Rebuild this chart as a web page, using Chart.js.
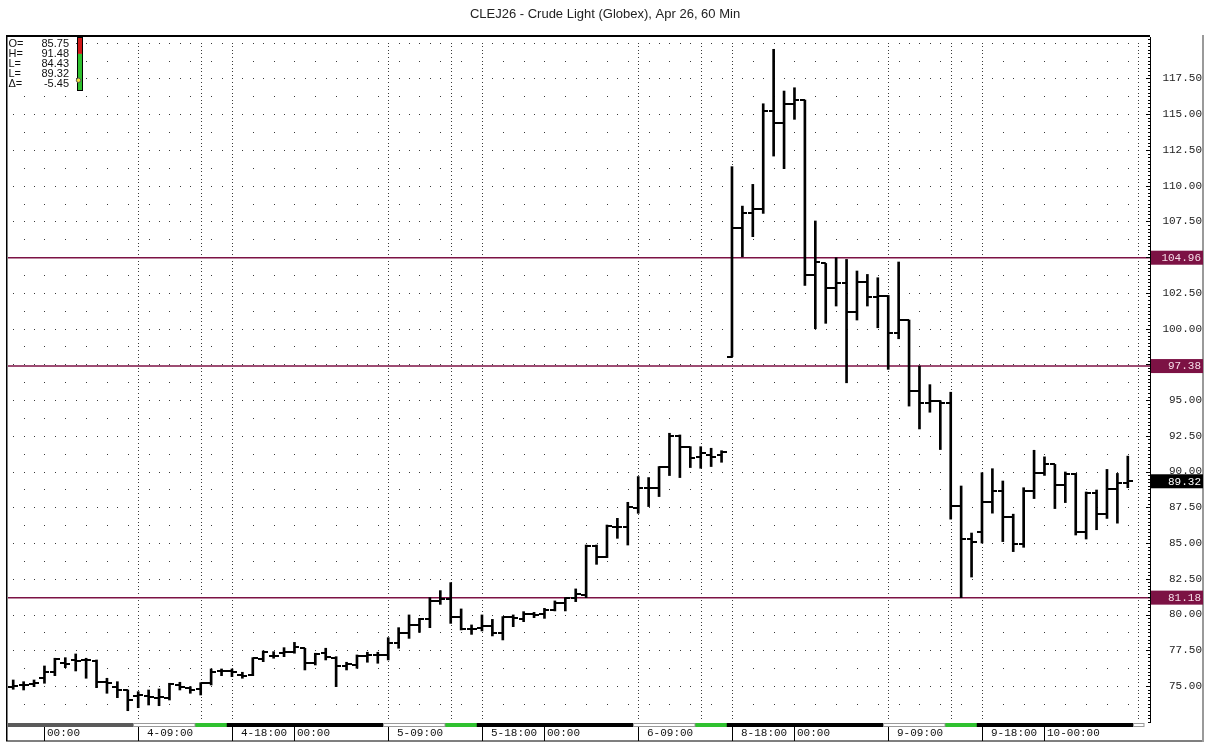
<!DOCTYPE html>
<html>
<head>
<meta charset="utf-8">
<title>CLEJ26 - Crude Light (Globex), Apr 26, 60 Min</title>
<script src="https://cdn.jsdelivr.net/npm/chart.js"></script>
<style>
  html, body { margin: 0; padding: 0; background: #fff; }
  #wrap { width: 1212px; height: 748px; }
</style>
</head>
<body>
<div id="wrap"><canvas id="myChart"></canvas></div>
<script>
// 60 min bars, oldest first (bar index 0 = 3-21:00)
const opens = [
  74.95, 75.05, 75.15, 75.55, 75.96, 76.59, 76.82, 76.82, 76.77, 75.30,
  74.95, 74.72, 74.32, 74.32, 74.14, 74.14, 75.07, 74.84, 74.79, 75.19,
  76.05, 76.05, 75.77, 75.77, 76.89, 77.12, 77.29, 77.40, 77.64, 76.59,
  77.29, 76.98, 76.42, 76.47, 77.12, 77.17, 77.17, 77.99, 78.68, 79.27,
  79.69, 80.95, 81.09, 79.83, 78.99, 79.08, 79.17, 78.68, 79.80, 79.69,
  80.01, 80.01, 80.32, 80.78, 81.13, 81.37, 84.82, 84.05, 86.15, 86.15,
  87.43, 88.83, 88.88, 90.35, 92.51, 91.74, 91.04, 91.16, 91.16, 98.03,
  107.01, 108.11, 108.34, 115.22, 114.40, 115.73, 115.99, 103.75, 104.56, 102.86,
  103.16, 101.16, 103.26, 102.23, 102.28, 99.67, 100.60, 95.63, 94.82, 94.92,
  94.80, 87.60, 85.28, 85.79, 87.88, 88.64, 86.79, 84.94, 88.64, 89.87,
  90.50, 89.04, 89.80, 85.79, 88.53, 87.02, 88.81, 89.18
];
const highs = [
  75.42, 75.30, 75.42, 76.40, 76.94, 76.98, 77.24, 76.94, 76.82, 75.54,
  75.30, 74.72, 74.60, 74.72, 74.79, 75.19, 75.26, 74.95, 75.23, 76.19,
  76.19, 76.19, 75.96, 76.98, 77.45, 77.40, 77.68, 78.05, 77.64, 77.29,
  77.64, 77.05, 76.66, 77.17, 77.36, 77.36, 78.38, 79.08, 79.97, 79.73,
  81.18, 81.67, 82.23, 80.39, 79.27, 79.97, 79.66, 79.85, 79.97, 80.20,
  80.15, 80.43, 80.95, 81.18, 81.79, 84.86, 84.86, 86.26, 86.73, 87.85,
  89.65, 89.58, 90.35, 92.68, 92.56, 91.74, 91.74, 91.63, 91.46, 111.33,
  108.57, 110.09, 115.73, 119.54, 116.62, 116.85, 115.99, 107.53, 104.56, 104.96,
  104.84, 104.03, 103.79, 103.56, 102.32, 104.66, 100.60, 97.38, 96.08, 94.95,
  95.55, 88.99, 85.70, 89.92, 90.20, 89.34, 87.02, 88.87, 91.49, 91.03,
  90.50, 89.97, 89.87, 88.57, 88.71, 90.15, 89.87, 91.08
];
const lows = [
  74.77, 74.72, 74.95, 75.19, 75.72, 76.28, 76.05, 75.54, 74.88, 74.49,
  74.18, 73.27, 73.48, 73.67, 73.62, 74.02, 74.72, 74.49, 74.37, 75.07,
  75.72, 75.65, 75.54, 75.72, 76.70, 76.94, 77.05, 77.29, 76.12, 76.47,
  76.82, 74.95, 76.12, 76.24, 76.66, 76.59, 76.82, 77.64, 78.33, 78.75,
  79.08, 80.71, 79.38, 78.92, 78.61, 78.85, 78.50, 78.22, 79.15, 79.50,
  79.78, 79.73, 80.25, 80.25, 80.90, 81.18, 83.51, 83.98, 85.33, 84.86,
  87.08, 87.55, 88.25, 89.72, 89.58, 90.28, 90.23, 90.35, 90.65, 98.03,
  105.03, 106.43, 108.06, 112.07, 111.19, 114.64, 103.02, 99.99, 100.37, 101.58,
  96.21, 100.60, 101.58, 100.06, 97.15, 99.29, 94.58, 92.98, 94.15, 91.54,
  86.67, 81.18, 82.62, 85.00, 87.09, 85.10, 84.40, 84.70, 88.11, 89.73,
  87.41, 87.83, 85.56, 85.28, 85.93, 86.72, 86.39, 88.87
];
const closes = [
  75.00, 75.07, 75.22, 75.96, 76.89, 76.54, 76.77, 76.80, 75.30, 75.19,
  74.72, 74.02, 74.37, 74.25, 74.21, 75.14, 74.95, 74.72, 75.19, 76.00,
  76.05, 75.96, 75.72, 76.94, 77.36, 77.12, 77.40, 77.75, 76.59, 77.22,
  77.01, 76.42, 76.52, 77.12, 77.17, 77.17, 77.99, 78.68, 79.27, 79.69,
  80.95, 81.09, 79.83, 78.99, 78.99, 79.17, 78.68, 79.80, 79.73, 80.01,
  79.97, 80.32, 80.78, 81.13, 81.40, 84.82, 84.05, 86.22, 86.15, 87.55,
  88.83, 88.88, 90.35, 92.51, 91.74, 90.97, 91.28, 91.04, 91.35, 107.01,
  108.11, 108.34, 115.22, 114.40, 115.73, 115.99, 103.75, 104.66, 102.86, 103.16,
  101.16, 103.26, 102.23, 102.28, 99.67, 100.60, 95.63, 94.80, 94.92, 94.80,
  87.60, 85.28, 85.10, 87.88, 88.64, 86.79, 84.94, 88.64, 89.87, 90.50,
  89.04, 89.80, 85.79, 88.53, 87.02, 88.81, 89.18, 89.32
];

// time axis labels (bar index -> text)
const xTickIdx = [3, 12, 21, 27, 36, 45, 51, 60, 69, 75, 84, 93, 99];
const xTickLabels = ['00:00', '4-09:00', '4-18:00', '00:00', '5-09:00', '5-18:00', '00:00',
                     '6-09:00', '8-18:00', '00:00', '9-09:00', '9-18:00', '10-00:00'];
// dotted session separators (09:00, 15:00, 18:00 bars)
const sessionIdx = [12, 18, 21, 36, 42, 45, 60, 66, 69, 84, 90, 93, 108];
// day sessions: first bar of each (white = day, green = close)
const daySessionStart = [12, 36, 60, 84];

const yTicks = [75, 77.5, 80, 82.5, 85, 87.5, 90, 92.5, 95, 97.5,
                100, 102.5, 105, 107.5, 110, 112.5, 115, 117.5];
const levels = [104.96, 97.38, 81.18];
const lastPrice = 89.32;

const infoLabels = ['O=', 'H=', 'L=', 'L=', '\u0394='];
const infoValues = [85.75, 91.48, 84.43, 89.32, -5.45];

const xMin = -0.5, xMax = 109.13;
const yMin = 72.48, yMax = 120.4;
const levelColor = '#7c1244';

function makeTick(side) {
  const c = document.createElement('canvas');
  c.width = 10;
  c.height = 2;
  const g = c.getContext('2d');
  g.fillStyle = '#000';
  g.fillRect(side < 0 ? 0 : 5, 0, 5, 2);
  return c;
}

const decor = {
  id: 'decor',
  beforeDatasetsDraw(chart) {
    const {ctx, chartArea: a, scales: {x, y}} = chart;
    ctx.save();
    ctx.fillStyle = '#3a3a3a';
    // dotted price rows every 1.25
    for (let k = 0; 72.5 + k * 1.25 <= yMax; k++) {
      const py = Math.round(y.getPixelForValue(72.5 + k * 1.25));
      if (py <= a.top + 2 || py >= a.bottom - 1) continue;
      const dense = k % 2 === 0;
      for (let i = dense ? 0 : 1; i <= 108; i += dense ? 1 : 2) {
        ctx.fillRect(Math.round(x.getPixelForValue(i)), py, 1, 1);
      }
    }
    // dotted session columns
    sessionIdx.forEach(i => {
      const px = Math.round(x.getPixelForValue(i));
      for (let k = 0; 72.5 + k * 0.25 <= yMax; k++) {
        const py = Math.round(y.getPixelForValue(72.5 + k * 0.25));
        if (py <= a.top + 2 || py >= a.bottom - 1) continue;
        ctx.fillRect(px, py, 1, 1);
      }
    });
    ctx.restore();
  },
  afterDraw(chart) {
    const {ctx, chartArea: a, scales: {x, y}} = chart;
    const px = v => x.getPixelForValue(v);
    ctx.save();

    // frame
    ctx.fillStyle = '#000';
    ctx.fillRect(a.left - 2, a.top - 2, a.right - a.left + 2, 2);
    ctx.fillRect(a.left - 2, a.top - 2, 1.5, 741 - a.top + 2);
    ctx.fillRect(a.left - 2, 740.5, 1204 - a.left + 2, 1);
    ctx.fillStyle = '#9a9a9a';
    ctx.fillRect(1202, a.top - 2, 2, 741 - a.top + 3);

    // price axis small ticks
    ctx.fillStyle = '#000';
    for (let k = 0; 72.5 + k * 0.25 <= yMax; k++) {
      const v = 72.5 + k * 0.25;
      const py = Math.round(y.getPixelForValue(v));
      if (py < a.top || py > a.bottom) continue;
      const len = yTicks.includes(v) ? 4 : 2;
      ctx.fillRect(a.right - len, py, len, 1);
    }

    // session band under the plot
    const bt = a.bottom + 1, bh = 4;
    ctx.fillStyle = '#000';
    ctx.fillRect(a.left, bt, px(107.5) - a.left, bh);
    ctx.fillStyle = '#5a5a5a';
    ctx.fillRect(a.left, bt, px(11.5) - a.left, bh);
    daySessionStart.forEach(s => {
      ctx.fillStyle = '#fff';
      ctx.fillRect(px(s - 0.5), bt, px(s + 5.5) - px(s - 0.5), bh);
      ctx.strokeStyle = '#9a9a9a';
      ctx.lineWidth = 1;
      ctx.strokeRect(px(s - 0.5) + 0.5, bt + 0.5, px(s + 5.5) - px(s - 0.5) - 1, bh - 1);
      ctx.fillStyle = '#2fc12f';
      ctx.fillRect(px(s + 5.5), bt, px(s + 8.5) - px(s + 5.5), bh);
    });
    ctx.fillStyle = '#fff';
    ctx.strokeStyle = '#9a9a9a';
    ctx.fillRect(px(107.5), bt, px(108.6) - px(107.5), bh);
    ctx.strokeRect(px(107.5) + 0.5, bt + 0.5, px(108.6) - px(107.5) - 1, bh - 1);

    // time labels
    ctx.font = '11px "Liberation Mono", monospace';
    ctx.textBaseline = 'middle';
    ctx.textAlign = 'left';
    xTickIdx.forEach((idx, n) => {
      const lab = xTickLabels[n];
      const p = Math.round(px(idx));
      ctx.fillStyle = '#000';
      ctx.fillRect(p, bt + bh, 1, 741 - bt - bh);
      const off = /^\d+-(?!00)/.test(lab) ? 9 : 3;
      ctx.fillStyle = '#111';
      ctx.fillText(lab, p + off, bt + bh + 6);
    });

    // level and last price boxes on the price axis
    const tag = (v, bg, fg) => {
      const py = y.getPixelForValue(v);
      ctx.fillStyle = bg;
      ctx.fillRect(a.right + 1, py - 7, 1203 - a.right - 1, 14);
      ctx.fillStyle = fg;
      ctx.font = '11px "Liberation Mono", monospace';
      ctx.textBaseline = 'middle';
      ctx.textAlign = 'right';
      ctx.fillText(v.toFixed(2), 1201, py + 0.5);
    };
    levels.forEach(v => tag(v, levelColor, '#f6dde8'));
    tag(lastPrice, '#000', '#fff');

    // info box top left
    ctx.fillStyle = '#fff';
    ctx.fillRect(a.left, a.top, 68, 54);
    ctx.font = '11px "Liberation Sans", Arial, sans-serif';
    ctx.textBaseline = 'middle';
    ctx.fillStyle = '#111';
    infoLabels.forEach((lab, n) => {
      const ty = a.top + 6.5 + n * 10;
      ctx.textAlign = 'left';
      ctx.fillText(lab, a.left + 0.5, ty);
      ctx.textAlign = 'right';
      ctx.fillText(infoValues[n].toFixed(2), a.left + 61, ty);
    });
    // range gauge: high at top, low at bottom
    const gx = a.left + 70, gt = a.top + 1, gb = a.top + 53;
    const hi = infoValues[1], lo = infoValues[2];
    const gy = v => gt + (hi - v) / (hi - lo) * (gb - gt);
    ctx.fillStyle = '#d01818';
    ctx.fillRect(gx, gt, 4, gy(infoValues[3]) - gt);
    ctx.fillStyle = '#2fc12f';
    ctx.fillRect(gx, gy(infoValues[3]), 4, gb - gy(infoValues[3]));
    ctx.strokeStyle = '#000';
    ctx.lineWidth = 1;
    ctx.strokeRect(gx - 0.5, gt - 0.5, 5, gb - gt + 1);
    ctx.beginPath();
    ctx.arc(gx + 0.5, gy(infoValues[0]), 2.2, 0, Math.PI * 2);
    ctx.fillStyle = '#f2e23a';
    ctx.fill();
    ctx.strokeStyle = '#555';
    ctx.stroke();

    ctx.restore();
  }
};

const ctx = document.getElementById('myChart').getContext('2d');
const openTick = makeTick(-1);
const closeTick = makeTick(1);

let myChart = new Chart(ctx, {
  type: 'bar',
  data: {
    datasets: [
      ...levels.map(v => ({
        type: 'line',
        label: v.toFixed(2),
        data: [{x: xMin, y: v}, {x: xMax, y: v}],
        borderColor: levelColor,
        borderWidth: 1.5,
        pointRadius: 0,
        order: 3
      })),
      {
        type: 'bar',
        label: 'High-Low',
        data: highs.map((h, i) => ({x: i, y: [lows[i], h]})),
        backgroundColor: '#000',
        barThickness: 2,
        borderWidth: 0,
        order: 2
      },
      {
        type: 'scatter',
        label: 'Open',
        data: opens.map((o, i) => ({x: i, y: o})),
        pointStyle: openTick,
        pointRadius: 3,
        order: 1
      },
      {
        type: 'scatter',
        label: 'Close',
        data: closes.map((c, i) => ({x: i, y: c})),
        pointStyle: closeTick,
        pointRadius: 3,
        order: 1
      }
    ]
  },
  options: {
    responsive: true,
    maintainAspectRatio: false,
    animation: false,
    events: [],
    layout: { padding: { left: 8, right: 10, bottom: 26, top: 0 } },
    plugins: {
      legend: { display: false },
      tooltip: { enabled: false },
      title: {
        display: true,
        text: 'CLEJ26 - Crude Light (Globex), Apr 26, 60 Min',
        color: '#222',
        font: { family: '"Liberation Sans", Arial, sans-serif', size: 13, weight: 'normal' },
        padding: { top: 6.5, bottom: 14.9 }
      }
    },
    scales: {
      x: {
        type: 'linear',
        min: xMin,
        max: xMax,
        offset: false,
        display: false
      },
      y: {
        type: 'linear',
        position: 'right',
        min: yMin,
        max: yMax,
        beginAtZero: false,
        afterBuildTicks: s => { s.ticks = yTicks.map(v => ({value: v})); },
        afterFit: s => { s.width = 52; },
        grid: { display: false, drawTicks: false },
        border: { display: true, color: '#000', width: 1 },
        ticks: {
          padding: 11,
          crossAlign: 'far',
          color: '#222',
          font: { family: '"Liberation Mono", monospace', size: 11 },
          callback: v => Number(v).toFixed(2)
        }
      }
    }
  },
  plugins: [decor]
});
</script>
</body>
</html>
